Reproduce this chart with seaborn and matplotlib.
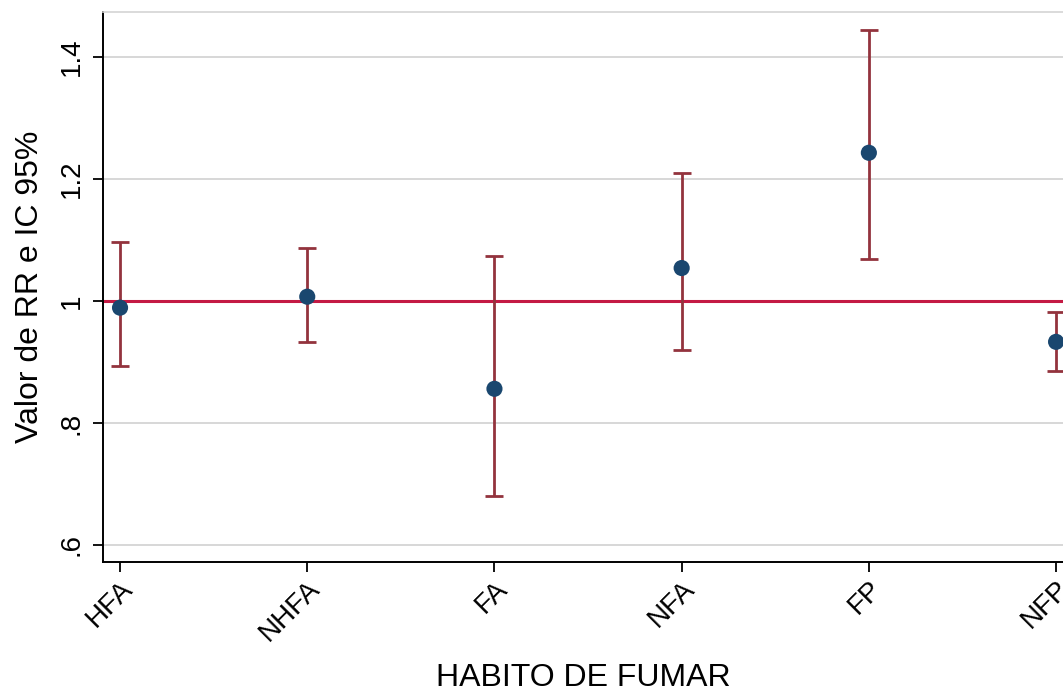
import matplotlib
matplotlib.use("Agg")
import matplotlib.pyplot as plt
import seaborn as sns
import pandas as pd

# Relative risk estimates with 95% confidence intervals by smoking habit
categories = ["HFA", "NHFA", "FA", "NFA", "FP", "NFP"]
rr = [0.989, 1.007, 0.856, 1.054, 1.243, 0.933]
ci_low = [0.893, 0.933, 0.681, 0.919, 1.069, 0.885]
ci_high = [1.097, 1.087, 1.074, 1.210, 1.445, 0.982]
y_ticks = [0.6, 0.8, 1.0, 1.2, 1.4]
y_tick_labels = [".6", ".8", "1", "1.2", "1.4"]

df = pd.DataFrame({"cat": categories, "rr": rr, "lo": ci_low, "hi": ci_high})

sns.set_theme(style="white")
plt.rcParams["font.family"] = ["Liberation Sans", "DejaVu Sans"]
plt.rcParams["text.color"] = "black"
plt.rcParams["axes.labelcolor"] = "black"
plt.rcParams["xtick.color"] = "black"
plt.rcParams["ytick.color"] = "black"

fig = plt.figure(figsize=(10.63, 6.89), dpi=100)
ax = fig.add_axes([0.0969, 0.1843, 0.9031, 0.7983])

navy = "#1a476f"
maroon = "#93333d"
ref_red = "#c41a44"

for yv in y_ticks:
    ax.axhline(yv, color="#d4d4d4", lw=1.3, zorder=0)

ax.axhline(1.0, color=ref_red, lw=2.2, zorder=1)

xpos = list(range(len(categories)))
ax.errorbar(xpos, df["rr"],
            yerr=[df["rr"] - df["lo"], df["hi"] - df["rr"]],
            fmt="none", ecolor=maroon, elinewidth=2.0, capsize=6.5,
            capthick=2.0, zorder=2)
sns.scatterplot(data=df, x="cat", y="rr", ax=ax, color=navy, s=135,
                edgecolor="none", zorder=3, legend=False)

ax.set_xlim(-0.091, 5.037)
ax.set_ylim(0.572, 1.4738)
ax.set_yticks(y_ticks)
ax.set_yticklabels(y_tick_labels, rotation=90, va="center", fontsize=20)
ax.set_xticks(xpos)
ax.set_xticklabels(categories, rotation=45, ha="right",
                   rotation_mode="anchor", fontsize=20)
ax.tick_params(axis="x", direction="out", length=7, width=1.3,
               color="black", bottom=True, pad=3)
ax.tick_params(axis="y", direction="out", length=7, width=1.3,
               color="black", left=True, pad=6)

ax.set_xlabel("HABITO DE FUMAR", fontsize=23)
ax.xaxis.set_label_coords(0.5, -0.183)
ax.set_ylabel("Valor de RR e IC 95%", fontsize=23, labelpad=10)

for side in ["left", "bottom"]:
    ax.spines[side].set_color("black")
    ax.spines[side].set_linewidth(1.4)
ax.spines["top"].set_color("#d4d4d4")
ax.spines["top"].set_linewidth(1.2)
ax.spines["right"].set_visible(False)

fig.savefig("out.png", dpi=100, facecolor="white")
